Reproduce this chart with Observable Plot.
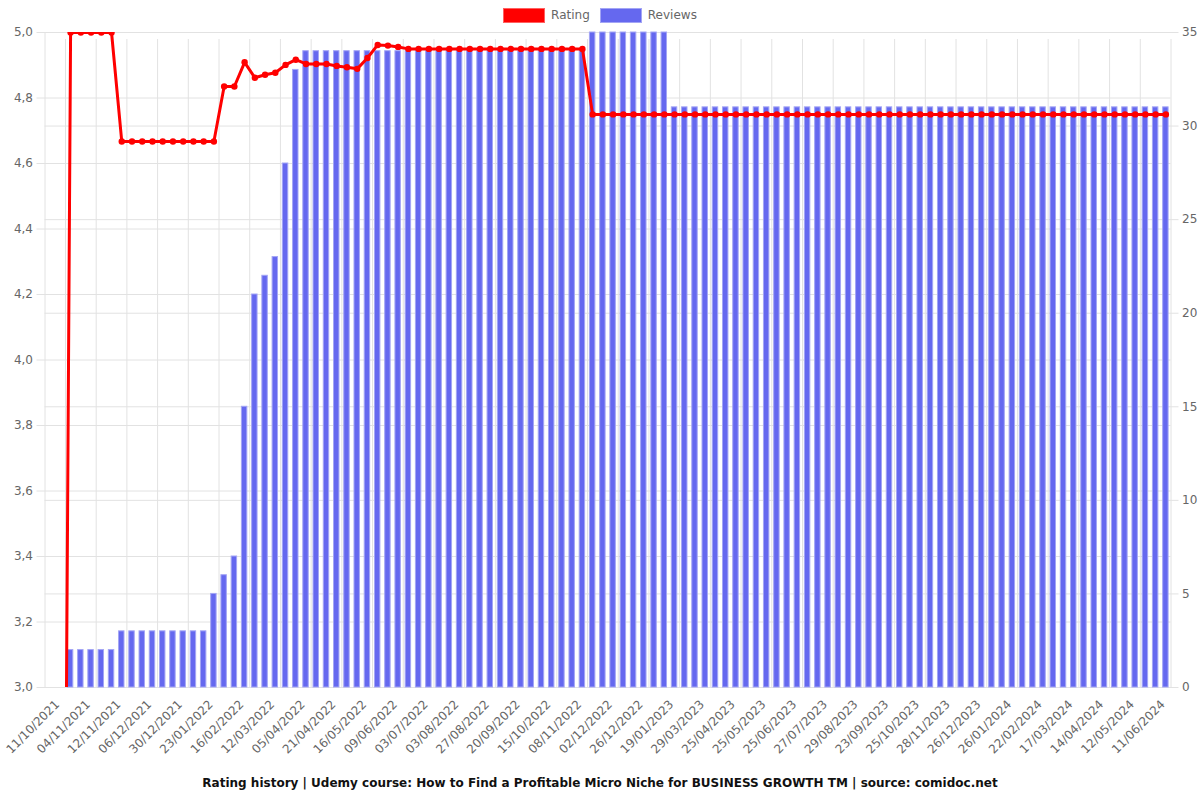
<!DOCTYPE html>
<html>
<head>
<meta charset="utf-8">
<script src="https://cdn.jsdelivr.net/npm/d3@7"></script>
<script src="https://cdn.jsdelivr.net/npm/@observablehq/plot@0.6"></script>
<style>
  body { margin: 0; background: #fff; font-family: "DejaVu Sans", sans-serif; }
  #legend { height: 26px; display: flex; justify-content: center; align-items: center; padding-top: 4px; box-sizing: border-box; font-size: 12px; color: #666; }
  .item { display: flex; align-items: center; margin: 0 5px; }
  .box { width: 42px; height: 15px; margin-right: 6px; box-sizing: border-box; }
  #title { text-align: center; font-weight: bold; font-size: 12px; color: #111; line-height: 18px; }
</style>
</head>
<body>
<div id="legend">
  <div class="item"><div class="box" style="background:#ff0000;border:1px solid #ff6060"></div>Rating</div>
  <div class="item"><div class="box" style="background:#6568ef;border:1px solid #a3a5f5"></div>Reviews</div>
</div>
<div id="chart"></div>
<div id="title">Rating history | Udemy course: How to Find a Profitable Micro Niche for BUSINESS GROWTH TM | source: comidoc.net</div>
<script>
// Visible x tick labels (every third category, starting with category 1)
const tickLabels = ["11/10/2021","04/11/2021","12/11/2021","06/12/2021","30/12/2021","23/01/2022","16/02/2022","12/03/2022","05/04/2022","21/04/2022","16/05/2022","09/06/2022","03/07/2022","03/08/2022","27/08/2022","20/09/2022","15/10/2022","08/11/2022","02/12/2022","26/12/2022","19/01/2023","29/03/2023","25/04/2023","25/05/2023","25/06/2023","27/07/2023","29/08/2023","23/09/2023","25/10/2023","28/11/2023","26/12/2023","26/01/2024","22/02/2024","17/03/2024","14/04/2024","12/05/2024","11/06/2024"];

// Reviews per category (110 categories)
const reviews = [0,0,
  2,2,2,2,2,
  3,3,3,3,3,3,3,3,3,
  5,6,7,15,21,22,23,28,33,
  34,34,34,34,34,34,34,34,34,34,34,34,34,34,34,34,34,34,34,34,34,34,34,34,34,34,34,34,
  35,35,35,35,35,35,35,35,
  31,31,31,31,31,31,31,31,31,31,31,31,31,31,31,31,31,31,31,31,31,31,31,31,31,
  31,31,31,31,31,31,31,31,31,31,31,31,31,31,31,31,31,31,31,31,31,31,31,31];

// Average rating per category
const rating = [0,0,
  5,5,5,5,5,
  4.667,4.667,4.667,4.667,4.667,4.667,4.667,4.667,4.667,4.667,
  4.835,4.835,4.909,4.862,4.871,4.877,4.901,4.917,4.904,4.904,4.904,4.898,4.894,4.889,4.922,4.962,4.96,4.956,
  4.95,4.95,4.95,4.95,4.95,4.95,4.95,4.95,4.95,4.95,4.95,4.95,4.95,4.95,4.95,4.95,4.95,4.95,
  4.75,4.75,4.75,4.75,4.75,4.75,4.75,4.75,4.75,4.75,4.75,4.75,4.75,4.75,4.75,4.75,4.75,4.75,4.75,
  4.75,4.75,4.75,4.75,4.75,4.75,4.75,4.75,4.75,4.75,4.75,4.75,4.75,4.75,4.75,4.75,4.75,4.75,4.75,
  4.75,4.75,4.75,4.75,4.75,4.75,4.75,4.75,4.75,4.75,4.75,4.75,4.75,4.75,4.75,4.75,4.75,4.75,4.75];

const reviewTicks = [0,5,10,15,20,25,30,35];

const data = reviews.map((r, i) => ({i, reviews: r, rating: rating[i]}));
const tickIdx = tickLabels.map((_, k) => 1 + 3 * k);
const n = data.length;

// map reviews (0-35) onto the rating axis (3-5)
const rv = d3.scaleLinear([0, 35], [3, 5]);
const grid = "#e2e2e2";

const chart = Plot.plot({
  width: 1200,
  height: 748,
  marginTop: 6,
  marginBottom: 87,
  marginLeft: 44.5,
  marginRight: 29.5,
  style: {fontFamily: "DejaVu Sans, sans-serif", fontSize: "12px", color: "#666"},
  x: {type: "linear", domain: [-0.5, n - 0.5], axis: null, label: null},
  y: {domain: [3, 5], axis: null, label: null},
  marks: [
    Plot.gridY({ticks: 10, stroke: grid, strokeOpacity: 1, insetLeft: -8}),
    Plot.ruleY(reviewTicks.map(rv), {stroke: grid, insetRight: -8}),
    Plot.ruleX(tickIdx, {x: d => d + 0.5, y1: 3, y2: 5, stroke: grid, insetBottom: -7}),
    Plot.ruleX([-0.5], {y1: 3, y2: 5, stroke: grid}),
    Plot.rectY(data.filter(d => d.reviews > 0), {
      x1: d => d.i - 0.5, x2: d => d.i + 0.5,
      y1: () => rv(0), y2: d => rv(d.reviews),
      insetLeft: 2.4, insetRight: 2.4,
      fill: "#6568ef", stroke: "#a3a5f5", strokeWidth: 1
    }),
    Plot.line(data, {x: "i", y: "rating", stroke: "#ff0000", strokeWidth: 3, clip: true}),
    Plot.dot(data, {x: "i", y: "rating", r: 3.2, fill: "#ff0000", clip: true}),
    Plot.axisY({ticks: 10, tickSize: 0, tickPadding: 12, fill: "#666", label: null,
      tickFormat: d => d.toFixed(1).replace(".", ",")}),
    Plot.axisY(reviewTicks.map(rv), {anchor: "right", tickSize: 0, tickPadding: 11, fill: "#666", label: null,
      tickFormat: d => String(Math.round(rv.invert(d)))}),
    Plot.axisX(tickIdx, {tickSize: 0, tickPadding: 8, tickRotate: -45, fill: "#666", label: null,
      dx: -3, dy: 7,
      tickFormat: i => tickLabels[(i - 1) / 3]})
  ]
});
document.getElementById("chart").appendChild(chart);
</script>
</body>
</html>
